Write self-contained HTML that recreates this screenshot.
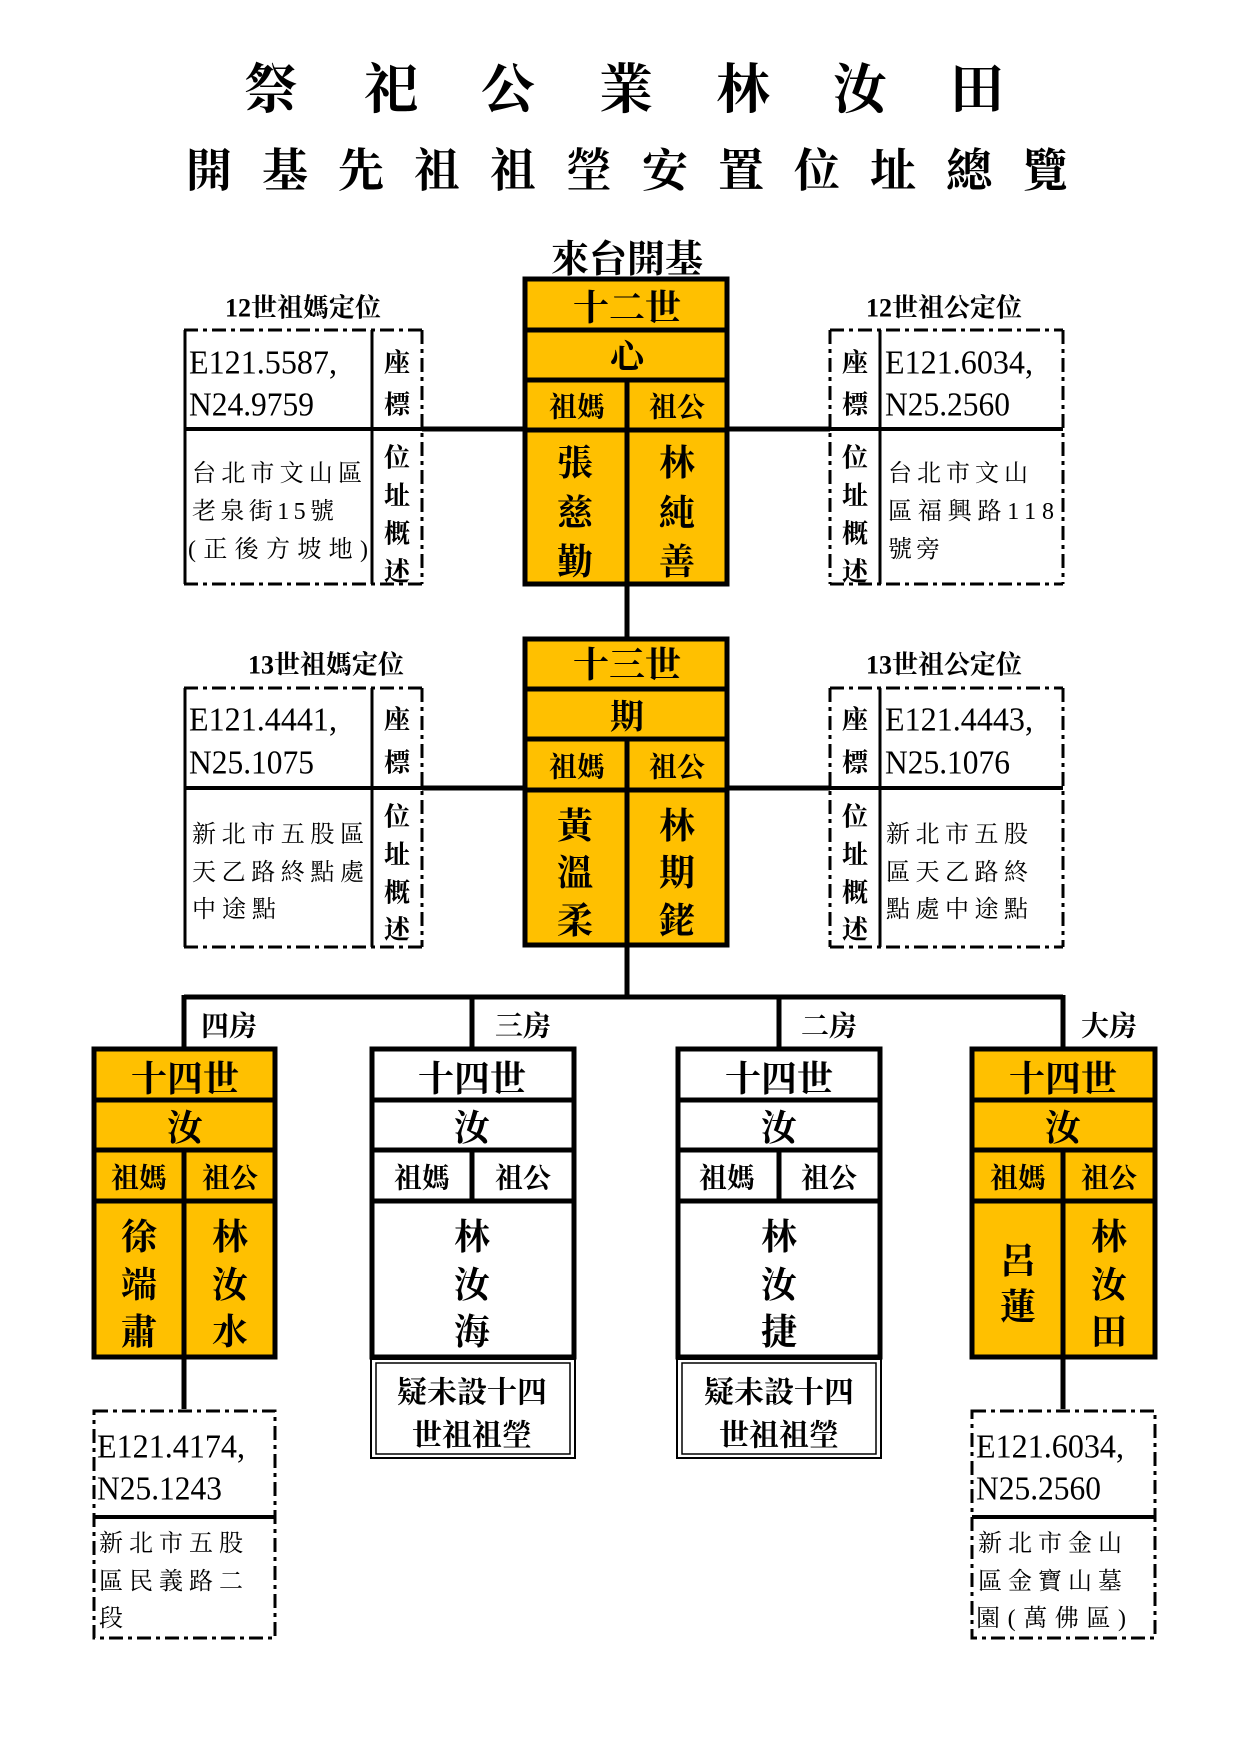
<!DOCTYPE html>
<html><head><meta charset="utf-8"><style>
html,body{margin:0;padding:0;background:#fff}
svg{display:block}
text{font-family:"Liberation Serif","Noto Serif CJK SC","Noto Sans CJK TC",serif;fill:#000;dominant-baseline:central;text-anchor:middle;transform:translateY(3px)}
.b{font-weight:bold}
.l{text-anchor:start}
</style></head><body>
<svg width="1240" height="1754" viewBox="0 0 1240 1754" xmlns="http://www.w3.org/2000/svg">
<g class="b" font-size="54" font-weight="bold">
<text x="271" y="87">祭</text><text x="391" y="87">祀</text><text x="508" y="87">公</text><text x="626" y="87">業</text><text x="743" y="87">林</text><text x="860" y="87">汝</text><text x="977" y="87">田</text>
</g>
<g font-size="46" font-weight="bold">
<text x="209" y="168">開</text><text x="285" y="168">基</text><text x="361" y="168">先</text><text x="437" y="168">祖</text><text x="513" y="168">祖</text><text x="589" y="168">塋</text><text x="665" y="168">安</text><text x="741" y="168">置</text><text x="817" y="168">位</text><text x="893" y="168">址</text><text x="969" y="168">總</text><text x="1045" y="168">覽</text>
</g>
<text x="627" y="257" font-size="38" font-weight="bold">來台開基</text>

<g stroke="#000" stroke-width="5" fill="none">
<line x1="422" y1="429" x2="525" y2="429"/><line x1="729" y1="429" x2="830" y2="429"/>
<line x1="422" y1="788" x2="525" y2="788"/><line x1="729" y1="788" x2="830" y2="788"/>
<line x1="627" y1="586" x2="627" y2="637"/>
<line x1="627" y1="947" x2="627" y2="997"/>
<line x1="184" y1="997" x2="1063" y2="997"/>
<line x1="184" y1="995" x2="184" y2="1047"/><line x1="472" y1="995" x2="472" y2="1047"/><line x1="779" y1="995" x2="779" y2="1047"/><line x1="1063" y1="995" x2="1063" y2="1047"/>
<line x1="184" y1="1359" x2="184" y2="1409"/><line x1="1063" y1="1359" x2="1063" y2="1409"/>
</g>

<g>
<rect x="525" y="279" width="202" height="305" fill="#FFC000" stroke="#000" stroke-width="5"/>
<g stroke="#000" stroke-width="5"><line x1="525" y1="330" x2="729" y2="330"/><line x1="525" y1="380" x2="729" y2="380"/><line x1="525" y1="430" x2="729" y2="430"/><line x1="627" y1="380" x2="627" y2="584"/></g>
<g font-weight="bold"><text x="627" y="305" font-size="36">十二世</text><text x="627" y="355" font-size="34">心</text>
<text x="577" y="405" font-size="28">祖媽</text><text x="677" y="405" font-size="28">祖公</text>
<g font-size="36"><text x="575" y="460">張</text><text x="575" y="510">慈</text><text x="575" y="559">勤</text><text x="677" y="460">林</text><text x="677" y="510">純</text><text x="677" y="559">善</text></g></g>
</g>
<g>
<rect x="525" y="639" width="202" height="306" fill="#FFC000" stroke="#000" stroke-width="5"/>
<g stroke="#000" stroke-width="5"><line x1="525" y1="689" x2="729" y2="689"/><line x1="525" y1="739" x2="729" y2="739"/><line x1="525" y1="790" x2="729" y2="790"/><line x1="627" y1="739" x2="627" y2="945"/></g>
<g font-weight="bold"><text x="627" y="662" font-size="36">十三世</text><text x="627" y="715" font-size="34">期</text>
<text x="577" y="765" font-size="28">祖媽</text><text x="677" y="765" font-size="28">祖公</text>
<g font-size="36"><text x="575" y="823">黃</text><text x="575" y="870">溫</text><text x="575" y="918">柔</text><text x="677" y="823">林</text><text x="677" y="870">期</text><text x="677" y="918">銠</text></g></g>
</g>

<g stroke="#000" fill="none">
<g stroke-width="3" stroke-dasharray="14,5,4,5"><line x1="184" y1="330" x2="422" y2="330"/><line x1="184" y1="584" x2="422" y2="584"/><line x1="422" y1="330" x2="422" y2="584"/></g>
<g stroke-width="3"><line x1="185" y1="330" x2="185" y2="584"/><line x1="372" y1="330" x2="372" y2="584"/><line x1="184" y1="429" x2="422" y2="429" stroke-width="4"/></g>
<g stroke-width="3" stroke-dasharray="14,5,4,5"><line x1="830" y1="330" x2="1063" y2="330"/><line x1="830" y1="584" x2="1063" y2="584"/><line x1="830" y1="330" x2="830" y2="584"/><line x1="1063" y1="330" x2="1063" y2="584"/></g>
<g stroke-width="3"><line x1="880" y1="330" x2="880" y2="584"/><line x1="830" y1="429" x2="1063" y2="429" stroke-width="4"/></g>
<g stroke-width="3" stroke-dasharray="14,5,4,5"><line x1="184" y1="688" x2="422" y2="688"/><line x1="184" y1="947" x2="422" y2="947"/><line x1="422" y1="688" x2="422" y2="947"/></g>
<g stroke-width="3"><line x1="185" y1="688" x2="185" y2="947"/><line x1="372" y1="688" x2="372" y2="947"/><line x1="184" y1="788" x2="422" y2="788" stroke-width="4"/></g>
<g stroke-width="3" stroke-dasharray="14,5,4,5"><line x1="830" y1="688" x2="1063" y2="688"/><line x1="830" y1="947" x2="1063" y2="947"/><line x1="830" y1="688" x2="830" y2="947"/><line x1="1063" y1="688" x2="1063" y2="947"/></g>
<g stroke-width="3"><line x1="880" y1="688" x2="880" y2="947"/><line x1="830" y1="788" x2="1063" y2="788" stroke-width="4"/></g>
</g>

<g font-size="26" font-weight="bold"><text x="303" y="305">12世祖媽定位</text><text x="944" y="305">12世祖公定位</text><text x="326" y="662">13世祖媽定位</text><text x="944" y="662">13世祖公定位</text></g>
<g font-size="34" class="l">
<text class="l" x="189" y="360" textLength="148" lengthAdjust="spacingAndGlyphs">E121.5587,</text><text class="l" x="189" y="402" textLength="125" lengthAdjust="spacingAndGlyphs">N24.9759</text>
<text class="l" x="885" y="360" textLength="148" lengthAdjust="spacingAndGlyphs">E121.6034,</text><text class="l" x="885" y="402" textLength="125" lengthAdjust="spacingAndGlyphs">N25.2560</text>
<text class="l" x="189" y="717" textLength="148" lengthAdjust="spacingAndGlyphs">E121.4441,</text><text class="l" x="189" y="760" textLength="125" lengthAdjust="spacingAndGlyphs">N25.1075</text>
<text class="l" x="885" y="717" textLength="148" lengthAdjust="spacingAndGlyphs">E121.4443,</text><text class="l" x="885" y="760" textLength="125" lengthAdjust="spacingAndGlyphs">N25.1076</text>
</g>
<g font-size="24">
<text class="l" x="192" y="471" textLength="170">台北市文山區</text><text class="l" x="192" y="509" textLength="142">老泉街15號</text><text class="l" x="188" y="547" textLength="180">(正後方坡地)</text>
<text class="l" x="888" y="471" textLength="140">台北市文山</text><text class="l" x="888" y="509" textLength="166">區福興路118</text><text class="l" x="888" y="547" textLength="52">號旁</text>
<text class="l" x="192" y="832" textLength="172">新北市五股區</text><text class="l" x="192" y="870" textLength="172">天乙路終點處</text><text class="l" x="192" y="907" textLength="84">中途點</text>
<text class="l" x="886" y="832" textLength="142">新北市五股</text><text class="l" x="886" y="870" textLength="142">區天乙路終</text><text class="l" x="886" y="907" textLength="142">點處中途點</text>
</g>
<g font-size="26" font-weight="bold">
<text x="397" y="360">座</text><text x="397" y="402">標</text><text x="397" y="455">位</text><text x="397" y="493">址</text><text x="397" y="531">概</text><text x="397" y="569">述</text>
<text x="855" y="360">座</text><text x="855" y="402">標</text><text x="855" y="455">位</text><text x="855" y="493">址</text><text x="855" y="531">概</text><text x="855" y="569">述</text>
<text x="397" y="717">座</text><text x="397" y="760">標</text><text x="397" y="814">位</text><text x="397" y="852">址</text><text x="397" y="890">概</text><text x="397" y="927">述</text>
<text x="855" y="717">座</text><text x="855" y="760">標</text><text x="855" y="814">位</text><text x="855" y="852">址</text><text x="855" y="890">概</text><text x="855" y="927">述</text>
</g>

<g font-size="28" font-weight="bold"><text x="229" y="1024">四房</text><text x="523" y="1024">三房</text><text x="829" y="1024">二房</text><text x="1109" y="1024">大房</text></g>

<g>
<rect x="94" y="1049" width="181" height="308" fill="#FFC000" stroke="#000" stroke-width="5"/>
<rect x="372" y="1049" width="202" height="308" fill="#fff" stroke="#000" stroke-width="5"/>
<rect x="678" y="1049" width="202" height="308" fill="#fff" stroke="#000" stroke-width="5"/>
<rect x="972" y="1049" width="183" height="308" fill="#FFC000" stroke="#000" stroke-width="5"/>
<g stroke="#000" stroke-width="5">
<line x1="94" y1="1100" x2="275" y2="1100"/><line x1="94" y1="1150" x2="275" y2="1150"/><line x1="94" y1="1201" x2="275" y2="1201"/><line x1="184" y1="1150" x2="184" y2="1357"/>
<line x1="372" y1="1100" x2="574" y2="1100"/><line x1="372" y1="1150" x2="574" y2="1150"/><line x1="372" y1="1201" x2="574" y2="1201"/><line x1="472" y1="1150" x2="472" y2="1201"/>
<line x1="678" y1="1100" x2="880" y2="1100"/><line x1="678" y1="1150" x2="880" y2="1150"/><line x1="678" y1="1201" x2="880" y2="1201"/><line x1="779" y1="1150" x2="779" y2="1201"/>
<line x1="972" y1="1100" x2="1155" y2="1100"/><line x1="972" y1="1150" x2="1155" y2="1150"/><line x1="972" y1="1201" x2="1155" y2="1201"/><line x1="1063" y1="1150" x2="1063" y2="1357"/>
</g>
<g fill="none" stroke="#000"><rect x="371" y="1359" width="204" height="99" stroke-width="2"/><rect x="376" y="1363" width="194" height="91" stroke-width="1.5"/>
<rect x="677" y="1359" width="204" height="99" stroke-width="2"/><rect x="682" y="1363" width="194" height="91" stroke-width="1.5"/></g>
<g font-weight="bold">
<g font-size="36"><text x="185" y="1076">十四世</text><text x="472" y="1076">十四世</text><text x="779" y="1076">十四世</text><text x="1063" y="1076">十四世</text>
<text x="185" y="1125">汝</text><text x="472" y="1125">汝</text><text x="779" y="1125">汝</text><text x="1063" y="1125">汝</text></g>
<g font-size="28"><text x="139" y="1176">祖媽</text><text x="230" y="1176">祖公</text><text x="422" y="1176">祖媽</text><text x="523" y="1176">祖公</text><text x="727" y="1176">祖媽</text><text x="829" y="1176">祖公</text><text x="1018" y="1176">祖媽</text><text x="1109" y="1176">祖公</text></g>
<g font-size="36">
<text x="139" y="1234">徐</text><text x="139" y="1282">端</text><text x="139" y="1329">肅</text><text x="230" y="1234">林</text><text x="230" y="1282">汝</text><text x="230" y="1329">水</text>
<text x="472" y="1234">林</text><text x="472" y="1282">汝</text><text x="472" y="1329">海</text>
<text x="779" y="1234">林</text><text x="779" y="1282">汝</text><text x="779" y="1329">捷</text>
<text x="1018" y="1258">呂</text><text x="1018" y="1304">蓮</text><text x="1109" y="1234">林</text><text x="1109" y="1282">汝</text><text x="1109" y="1329">田</text>
</g>
<g font-size="30"><text x="472" y="1390">疑未設十四</text><text x="472" y="1433">世祖祖塋</text><text x="779" y="1390">疑未設十四</text><text x="779" y="1433">世祖祖塋</text></g>
</g>
</g>

<g stroke="#000" fill="none" stroke-width="3">
<g stroke-dasharray="14,5,4,5"><rect x="94" y="1411" width="181" height="227"/><rect x="972" y="1411" width="183" height="227"/></g>
<line x1="94" y1="1517" x2="275" y2="1517" stroke-width="4"/><line x1="972" y1="1517" x2="1155" y2="1517" stroke-width="4"/>
</g>
<g font-size="34">
<text class="l" x="97" y="1444" textLength="148" lengthAdjust="spacingAndGlyphs">E121.4174,</text><text class="l" x="97" y="1486" textLength="125" lengthAdjust="spacingAndGlyphs">N25.1243</text>
<text class="l" x="976" y="1444" textLength="148" lengthAdjust="spacingAndGlyphs">E121.6034,</text><text class="l" x="976" y="1486" textLength="125" lengthAdjust="spacingAndGlyphs">N25.2560</text>
</g>
<g font-size="24">
<text class="l" x="99" y="1541" textLength="144">新北市五股</text><text class="l" x="99" y="1579" textLength="144">區民義路二</text><text class="l" x="99" y="1616">段</text>
<text class="l" x="978" y="1541" textLength="144">新北市金山</text><text class="l" x="978" y="1579" textLength="144">區金寶山墓</text><text class="l" x="976" y="1616" textLength="150">園(萬佛區)</text>
</g>
</svg>
</body></html>
